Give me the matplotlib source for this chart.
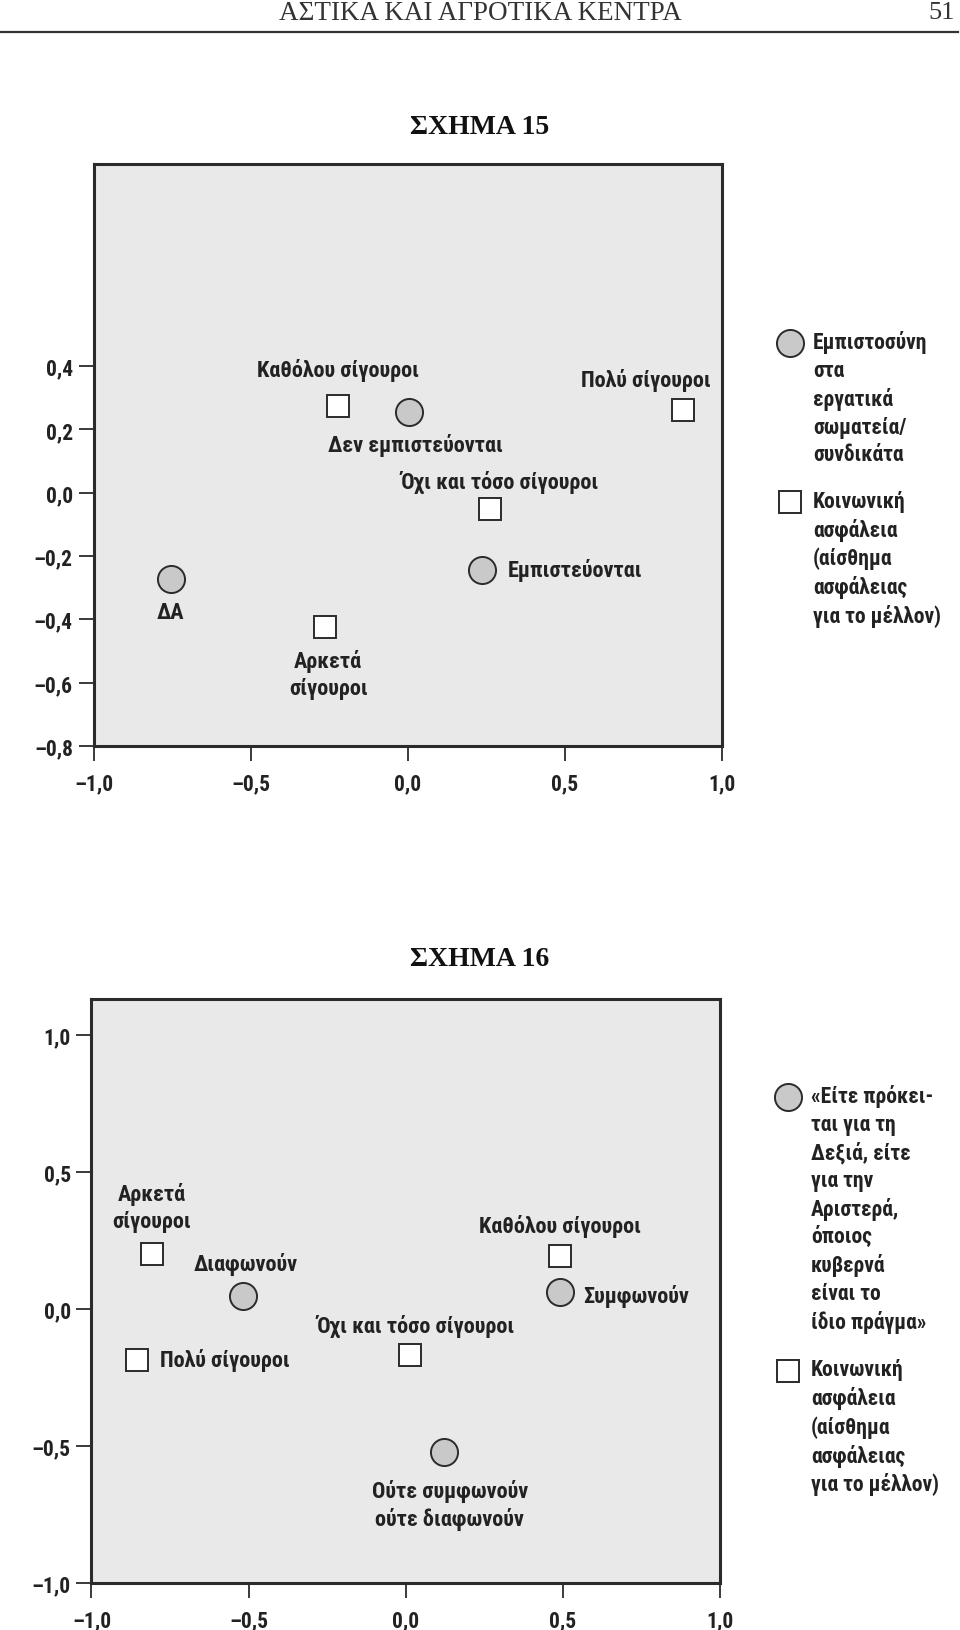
import numpy as np
import matplotlib
matplotlib.use("Agg")
import matplotlib.pyplot as plt

SANS = ["Liberation Sans Narrow", "Roboto Condensed", "DejaVu Sans"]
SERIF = ["Liberation Serif", "DejaVu Serif"]
plt.rcParams["font.family"] = SANS

FACE = "#e9e9e9"
CIRCLE_FILL = "#c9c9c9"
EDGE = "#2b2b2b"
TXT = "#222222"

# SCHEMA 15
trust_labels = ["ΔΑ", "Δεν εμπιστεύονται", "Εμπιστεύονται"]
trust_x = [-0.755, 0.003, 0.235]
trust_y = [-0.272, 0.255, -0.243]

sec15_labels = ["Καθόλου σίγουροι", "Πολύ σίγουροι", "Όχι και τόσο σίγουροι", "Αρκετά\nσίγουροι"]
sec15_x = [-0.222, 0.877, 0.262, -0.262]
sec15_y = [0.275, 0.262, -0.052, -0.424]

legend15_circle = "Εμπιστοσύνη\nστα\nεργατικά\nσωματεία/\nσυνδικάτα"
legend_square = "Κοινωνική\nασφάλεια\n(αίσθημα\nασφάλειας\nγια το μέλλον)"

# SCHEMA 16
same_labels = ["Διαφωνούν", "Ούτε συμφωνούν\nούτε διαφωνούν", "Συμφωνούν"]
same_x = [-0.517, 0.123, 0.490]
same_y = [0.049, -0.521, 0.064]

sec16_labels = ["Αρκετά\nσίγουροι", "Πολύ σίγουροι", "Όχι και τόσο σίγουροι", "Καθόλου σίγουροι"]
sec16_x = [-0.808, -0.854, 0.013, 0.493]
sec16_y = [0.200, -0.185, -0.166, 0.192]

legend16_circle = ("«Είτε πρόκει-\nται για τη\nΔεξιά, είτε\nγια την\nΑριστερά,\n"
                   "όποιος\nκυβερνά\nείναι το\nίδιο πράγμα»")

# label offsets in points (dx, dy, ha)
off15_trust = [(0, -24, "center"), (5, -23, "center"), (19, 0, "left")]
off15_sec = [(0, 26, "center"), (-27, 22, "center"), (7, 20, "center"), (2, -34, "center")]
off16_same = [(2, 23, "center"), (4, -38, "center"), (17, -3, "left")]
off16_sec = [(0, 34, "center"), (16, 0, "left"), (4.5, 21, "center"), (0, 22, "center")]

LABEL_SIZE = 16


def fmt(v, nd):
    s = f"{abs(v):.{nd}f}".replace(".", ",")
    return ("\u2013" + s) if v < -1e-9 else s


def style_axes(ax, xticks, yticks, ylim):
    ax.set_facecolor(FACE)
    ax.set_xlim(-1.0, 1.0)
    ax.set_ylim(*ylim)
    for sp in ax.spines.values():
        sp.set_linewidth(2.2)
        sp.set_color(EDGE)
    ax.set_xticks(xticks)
    ax.set_yticks(yticks)
    ax.set_xticklabels([fmt(v, 1) for v in xticks])
    ax.set_yticklabels([fmt(v, 1) for v in yticks])
    ax.tick_params(direction="out", length=11, width=1.3, color=EDGE,
                   labelsize=15.5, pad=4, labelcolor=TXT)
    ax.tick_params(axis="x", pad=8)
    for lab in ax.get_xticklabels() + ax.get_yticklabels():
        lab.set_fontweight("bold")


def draw_points(ax, xs, ys, labels, offs, marker):
    if marker == "o":
        ax.plot(xs, ys, "o", ms=19.5, mfc=CIRCLE_FILL, mec=EDGE, mew=1.4, ls="none")
    else:
        ax.plot(xs, ys, "s", ms=16.5, mfc="white", mec=EDGE, mew=1.4, ls="none")
    for x, y, lab, (dx, dy, ha) in zip(xs, ys, labels, offs):
        ax.annotate(lab, (x, y), xytext=(dx, dy), textcoords="offset points",
                    ha=ha, va="center", fontsize=LABEL_SIZE, fontweight="bold",
                    color=TXT, linespacing=1.25)


def draw_legend(ax, y_circle, circle_text, y_square, square_text):
    # markers in axes fraction, to the right of the frame
    xm, xt = 1.108, 1.145
    for y, txt, mk in [(y_circle, circle_text, "o"), (y_square, square_text, "s")]:
        if mk == "o":
            ax.plot([xm], [y], "o", ms=19.5, mfc=CIRCLE_FILL, mec=EDGE, mew=1.4,
                    transform=ax.transAxes, clip_on=False)
        else:
            ax.plot([xm], [y], "s", ms=16.5, mfc="white", mec=EDGE, mew=1.4,
                    transform=ax.transAxes, clip_on=False)
        ax.annotate(txt, (xt, y), xycoords="axes fraction", xytext=(0, 9),
                    textcoords="offset points", ha="left", va="top",
                    fontsize=15.5, fontweight="bold", color=TXT, linespacing=1.33,
                    annotation_clip=False)


fig = plt.figure(figsize=(9.6, 16.31), dpi=100)
fig.patch.set_facecolor("white")

# page header
fig.text(0.5, 1 - 13 / 1631, "ΑΣΤΙΚΑ ΚΑΙ ΑΓΡΟΤΙΚΑ ΚΕΝΤΡΑ", ha="center", va="center",
         family=SERIF, fontsize=19.5, color="#333333")
fig.text(0.995, 1 - 13 / 1631, "51", ha="right", va="center",
         family=SERIF, fontsize=19, color="#333333")
fig.add_artist(plt.Line2D([0.0, 0.998], [1 - 33 / 1631] * 2, color="#333333", lw=1.6))

# SCHEMA 15
fig.text(0.5, 1 - 127 / 1631, "ΣΧΗΜΑ 15", ha="center", va="center",
         family=SERIF, fontweight="bold", fontsize=20, color="#111111")
ax1 = fig.add_axes([0.0975, 0.5421, 0.6546, 0.3565])
style_axes(ax1, np.arange(-1.0, 1.01, 0.5), np.arange(-0.8, 0.41, 0.2), (-0.8, 1.038))
draw_points(ax1, sec15_x, sec15_y, sec15_labels, off15_sec, "s")
draw_points(ax1, trust_x, trust_y, trust_labels, off15_trust, "o")
draw_legend(ax1, 0.693, legend15_circle, 0.419, legend_square)

# SCHEMA 16
fig.text(0.5, 1 - 960 / 1631, "ΣΧΗΜΑ 16", ha="center", va="center",
         family=SERIF, fontweight="bold", fontsize=20, color="#111111")
ax2 = fig.add_axes([0.0953, 0.0288, 0.6544, 0.3578])
style_axes(ax2, np.arange(-1.0, 1.01, 0.5), np.arange(-1.0, 1.01, 0.5), (-1.0, 1.13))
draw_points(ax2, sec16_x, sec16_y, sec16_labels, off16_sec, "s")
draw_points(ax2, same_x, same_y, same_labels, off16_same, "o")
draw_legend(ax2, 0.833, legend16_circle, 0.364, legend_square)

fig.savefig("out.png", dpi=100, facecolor="white")
